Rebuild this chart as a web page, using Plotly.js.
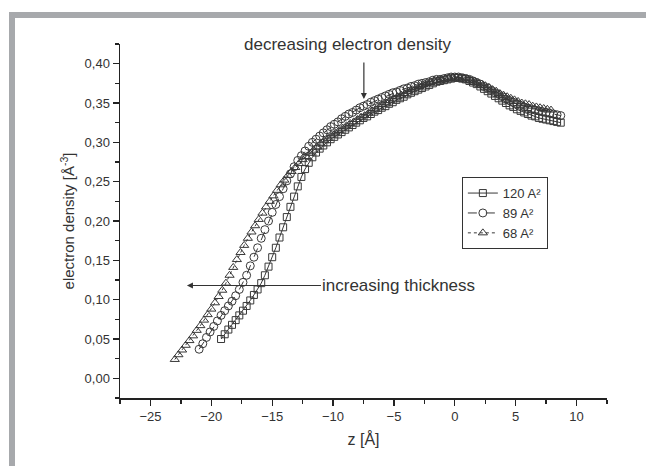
<!DOCTYPE html>
<html>
<head>
<meta charset="utf-8">
<script src="https://cdn.plot.ly/plotly-3.0.1.min.js"></script>
<style>
html,body{margin:0;padding:0;background:#fff;}
#frame{position:absolute;left:9px;top:12px;width:646px;height:466px;border-left:6px solid #a7a9ac;border-top:6px solid #a7a9ac;z-index:0;}
#chart{position:absolute;left:0;top:0;width:646px;height:466px;z-index:1;}
</style>
</head>
<body>
<div id="frame"></div>
<div id="chart"></div>
<script>
// z [Å] positions and electron density [Å^-3]
const z68 = [-23.0,-22.7,-22.4,-22.1,-21.8,-21.5,-21.2,-20.9,-20.6,-20.3,-20.0,-19.7,-19.4,-19.1,-18.8,-18.5,-18.2,-17.9,-17.6,-17.3,-17.0,-16.7,-16.4,-16.1,-15.8,-15.5,-15.2,-14.9,-14.6,-14.3,-14.0,-13.7,-13.4,-13.1,-12.8,-12.5,-12.2,-11.9,-11.6,-11.3,-11.0,-10.7,-10.4,-10.1,-9.8,-9.5,-9.2,-8.9,-8.6,-8.3,-8.0,-7.7,-7.4,-7.1,-6.8,-6.5,-6.2,-5.9,-5.6,-5.3,-5.0,-4.7,-4.4,-4.1,-3.8,-3.5,-3.2,-2.9,-2.6,-2.3,-2.0,-1.7,-1.4,-1.1,-0.8,-0.5,-0.2,0.1,0.4,0.7,1.0,1.3,1.6,1.9,2.2,2.5,2.8,3.1,3.4,3.7,4.0,4.3,4.6,4.9,5.2,5.5,5.8,6.1,6.4,6.7,7.0,7.3,7.6,7.9];
const rho68 = [0.024,0.030,0.036,0.042,0.048,0.054,0.061,0.067,0.074,0.081,0.088,0.096,0.104,0.112,0.121,0.131,0.141,0.151,0.160,0.169,0.178,0.186,0.194,0.202,0.210,0.218,0.225,0.232,0.239,0.246,0.252,0.258,0.263,0.268,0.273,0.278,0.282,0.286,0.290,0.294,0.298,0.302,0.305,0.309,0.312,0.315,0.318,0.321,0.324,0.326,0.329,0.332,0.334,0.337,0.340,0.342,0.345,0.348,0.350,0.353,0.355,0.358,0.360,0.362,0.365,0.367,0.369,0.371,0.373,0.375,0.376,0.378,0.379,0.380,0.381,0.382,0.383,0.383,0.382,0.382,0.381,0.379,0.378,0.376,0.374,0.372,0.370,0.367,0.365,0.362,0.360,0.358,0.356,0.354,0.352,0.350,0.349,0.348,0.346,0.345,0.344,0.343,0.342,0.341];

const z89 = [-21.0,-20.7,-20.4,-20.1,-19.8,-19.5,-19.2,-18.9,-18.6,-18.3,-18.0,-17.7,-17.4,-17.1,-16.8,-16.5,-16.2,-15.9,-15.6,-15.3,-15.0,-14.7,-14.4,-14.1,-13.8,-13.5,-13.2,-12.9,-12.6,-12.3,-12.0,-11.7,-11.4,-11.1,-10.8,-10.5,-10.2,-9.9,-9.6,-9.3,-9.0,-8.7,-8.4,-8.1,-7.8,-7.5,-7.2,-6.9,-6.6,-6.3,-6.0,-5.7,-5.4,-5.1,-4.8,-4.5,-4.2,-3.9,-3.6,-3.3,-3.0,-2.7,-2.4,-2.1,-1.8,-1.5,-1.2,-0.9,-0.6,-0.3,0.0,0.3,0.6,0.9,1.2,1.5,1.8,2.1,2.4,2.7,3.0,3.3,3.6,3.9,4.2,4.5,4.8,5.1,5.4,5.7,6.0,6.3,6.6,6.9,7.2,7.5,7.8,8.1,8.4,8.7];
const rho89 = [0.037,0.044,0.052,0.059,0.066,0.073,0.080,0.086,0.092,0.098,0.105,0.113,0.122,0.131,0.143,0.154,0.166,0.178,0.189,0.200,0.211,0.221,0.231,0.241,0.251,0.260,0.269,0.277,0.283,0.289,0.295,0.300,0.304,0.308,0.312,0.316,0.320,0.323,0.326,0.330,0.333,0.336,0.338,0.341,0.344,0.346,0.348,0.351,0.353,0.355,0.357,0.359,0.361,0.363,0.364,0.366,0.368,0.369,0.371,0.372,0.374,0.375,0.376,0.377,0.379,0.380,0.380,0.381,0.382,0.383,0.383,0.383,0.382,0.381,0.380,0.378,0.376,0.374,0.371,0.369,0.366,0.363,0.361,0.358,0.355,0.353,0.351,0.349,0.347,0.345,0.343,0.342,0.341,0.340,0.339,0.338,0.337,0.336,0.335,0.334];

const z120 = [-19.2,-18.9,-18.6,-18.3,-18.0,-17.7,-17.4,-17.1,-16.8,-16.5,-16.2,-15.9,-15.6,-15.3,-15.0,-14.7,-14.4,-14.1,-13.8,-13.5,-13.2,-12.9,-12.6,-12.3,-12.0,-11.7,-11.4,-11.1,-10.8,-10.5,-10.2,-9.9,-9.6,-9.3,-9.0,-8.7,-8.4,-8.1,-7.8,-7.5,-7.2,-6.9,-6.6,-6.3,-6.0,-5.7,-5.4,-5.1,-4.8,-4.5,-4.2,-3.9,-3.6,-3.3,-3.0,-2.7,-2.4,-2.1,-1.8,-1.5,-1.2,-0.9,-0.6,-0.3,0.0,0.3,0.6,0.9,1.2,1.5,1.8,2.1,2.4,2.7,3.0,3.3,3.6,3.9,4.2,4.5,4.8,5.1,5.4,5.7,6.0,6.3,6.6,6.9,7.2,7.5,7.8,8.1,8.4,8.7];
const rho120 = [0.050,0.056,0.062,0.068,0.074,0.080,0.086,0.092,0.099,0.106,0.113,0.121,0.131,0.142,0.154,0.166,0.179,0.192,0.205,0.218,0.231,0.244,0.256,0.266,0.274,0.281,0.287,0.292,0.296,0.300,0.304,0.307,0.310,0.313,0.316,0.319,0.322,0.325,0.328,0.331,0.333,0.336,0.339,0.341,0.344,0.346,0.349,0.351,0.354,0.356,0.358,0.361,0.363,0.365,0.367,0.369,0.371,0.373,0.375,0.377,0.378,0.379,0.380,0.381,0.382,0.382,0.381,0.380,0.378,0.376,0.374,0.371,0.368,0.365,0.362,0.359,0.356,0.353,0.350,0.347,0.345,0.342,0.340,0.338,0.336,0.334,0.333,0.331,0.330,0.329,0.328,0.327,0.326,0.325];

const seriesNames = ['120 A²', '89 A²', '68 A²'];
const xTickVals = [-25,-20,-15,-10,-5,0,5,10];
const yTickVals = [0,0.05,0.10,0.15,0.20,0.25,0.30,0.35,0.40];

const ink = '#383838';
const traces = [
  {x: z120, y: rho120, name: seriesNames[0], mode: 'lines+markers',
   line: {color: ink, width: 1, dash: 'solid'},
   marker: {symbol: 'square-open', size: 7, color: ink, line: {width: 1, color: ink}}},
  {x: z89, y: rho89, name: seriesNames[1], mode: 'lines+markers',
   line: {color: ink, width: 1, dash: 'dash'},
   marker: {symbol: 'circle-open', size: 8, color: ink, line: {width: 1, color: ink}}},
  {x: z68, y: rho68, name: seriesNames[2], mode: 'lines+markers',
   line: {color: ink, width: 1, dash: 'dot'},
   marker: {symbol: 'triangle-up-open', size: 8, color: ink, line: {width: 1, color: ink}}}
];

const layout = {
  width: 646, height: 466,
  margin: {l: 120, r: 39, t: 44, b: 68},
  paper_bgcolor: 'rgba(0,0,0,0)',
  plot_bgcolor: 'rgba(0,0,0,0)',
  separators: ',.',
  font: {family: 'Liberation Sans, Arial, sans-serif', color: '#333', size: 13},
  showlegend: true,
  legend: {x: 0.702, y: 0.624, xanchor: 'left', yanchor: 'top',
           bordercolor: '#333', borderwidth: 1, bgcolor: '#fff',
           font: {size: 13, color: '#333'}, tracegroupgap: 0},
  xaxis: {range: [-27.5, 12.5], tickvals: xTickVals, ticks: 'outside', ticklen: 6,
          tickwidth: 1.3, tickcolor: '#222', showline: true, linecolor: '#222', linewidth: 1.5,
          showgrid: false, zeroline: false, tickfont: {size: 13, color: '#333'},
          minor: {dtick: 2.5, ticks: 'outside', ticklen: 4, tickcolor: '#222', showgrid: false},
          title: {text: 'z [Å]', font: {size: 16, color: '#333'}, standoff: 10}},
  yaxis: {range: [-0.025, 0.425], tickvals: yTickVals, tickformat: '.2f', ticks: 'outside', ticklen: 6,
          tickwidth: 1.3, tickcolor: '#222', showline: true, linecolor: '#222', linewidth: 1.5,
          showgrid: false, zeroline: false, tickfont: {size: 13, color: '#333'},
          minor: {dtick: 0.025, ticks: 'outside', ticklen: 4, tickcolor: '#222', showgrid: false},
          title: {text: 'electron density [Å<sup>-3</sup>]', font: {size: 15, color: '#333'}, standoff: 6}},
  annotations: [
    {x: -8.8, y: 0.425, xref: 'x', yref: 'y', text: 'decreasing electron density', showarrow: false,
     font: {size: 17, color: '#333'}, xanchor: 'center', yanchor: 'middle'},
    {x: -7.47, y: 0.355, xref: 'x', yref: 'y', text: '', showarrow: true, ax: 0, ay: -38,
     arrowhead: 2, arrowsize: 1, arrowwidth: 1.2, arrowcolor: '#333'},
    {x: -22.0, y: 0.118, xref: 'x', yref: 'y', text: 'increasing thickness', showarrow: true,
     ax: 212, ay: 0, standoff: 0, arrowhead: 2, arrowsize: 1, arrowwidth: 1.2, arrowcolor: '#333',
     font: {size: 17, color: '#333'}}
  ]
};

Plotly.newPlot('chart', traces, layout, {staticPlot: true, displayModeBar: false});
</script>
</body>
</html>
